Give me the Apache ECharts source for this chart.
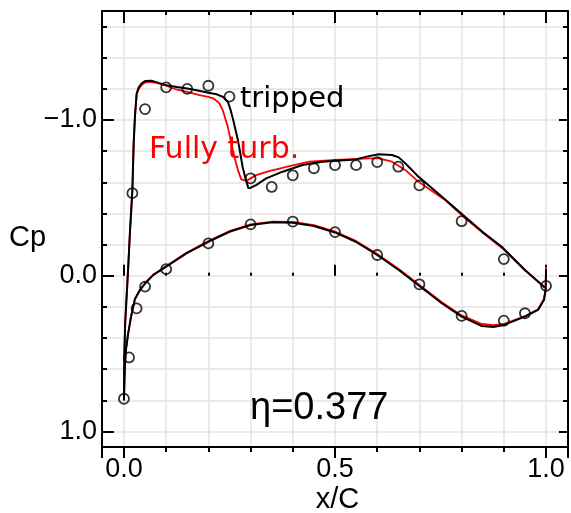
<!DOCTYPE html>
<html>
<head>
	<meta charset="utf-8">
	<title>Cp distribution</title>
	<script src="https://cdn.jsdelivr.net/npm/echarts@6/dist/echarts.min.js"></script>
	<style>
	html, body {
		margin: 0;
		height: 100%;
		background: #fff;
	}
	#main {
		width: 571px;
		height: 513px;
	}
	</style>
</head>
<body>
<div id="main"></div>
<script>
	// experiment (open circles)
	var expUpper = [
		[0.02, -0.53], [0.05, -1.07], [0.1, -1.21], [0.15, -1.2], [0.2, -1.22], [0.25, -1.15],
		[0.3, -0.625], [0.35, -0.57], [0.4, -0.645], [0.45, -0.69], [0.5, -0.71], [0.55, -0.71],
		[0.6, -0.73], [0.65, -0.7], [0.7, -0.58], [0.8, -0.35], [0.9, -0.107], [1.0, 0.065]
	];
	var expLower = [
		[0.0, 0.79], [0.012, 0.525], [0.03, 0.21], [0.05, 0.07], [0.1, -0.042], [0.2, -0.208],
		[0.3, -0.33], [0.4, -0.348], [0.5, -0.28], [0.6, -0.133], [0.7, 0.055], [0.8, 0.258],
		[0.9, 0.289], [0.95, 0.241]
	];

	// computation, tripped (black)
	var trippedUpper = [
		[0, 0.8], [0.001, 0.5], [0.003, 0.3], [0.006, 0.15], [0.01, -0.05], [0.014, -0.27],
		[0.02, -0.55], [0.023, -0.85], [0.026, -1.02], [0.03, -1.17], [0.035, -1.21], [0.042, -1.235],
		[0.05, -1.25], [0.065, -1.252], [0.08, -1.24], [0.1, -1.224], [0.125, -1.212], [0.15, -1.202],
		[0.175, -1.19], [0.2, -1.175], [0.22, -1.165], [0.235, -1.148], [0.246, -1.117], [0.252, -1.07],
		[0.258, -1.01], [0.264, -0.94], [0.27, -0.871], [0.276, -0.78], [0.281, -0.7], [0.289, -0.614],
		[0.295, -0.561], [0.3, -0.565], [0.313, -0.582], [0.337, -0.625], [0.376, -0.668], [0.423, -0.711],
		[0.47, -0.732], [0.549, -0.747], [0.58, -0.768], [0.604, -0.78], [0.635, -0.775], [0.651, -0.76],
		[0.667, -0.721], [0.698, -0.635], [0.73, -0.561], [0.761, -0.49], [0.808, -0.379], [0.85, -0.28],
		[0.895, -0.186], [0.95, -0.037], [0.997, 0.075]
	];
	var trippedLower = [
		[0, 0.8], [0.001, 0.68], [0.002, 0.584], [0.005, 0.47], [0.01, 0.37], [0.017, 0.26],
		[0.026, 0.15], [0.038, 0.092], [0.05, 0.05], [0.069, -0.004], [0.1, -0.058], [0.148, -0.144],
		[0.2, -0.218], [0.25, -0.282], [0.3, -0.325], [0.352, -0.343], [0.4, -0.34], [0.45, -0.319],
		[0.5, -0.278], [0.549, -0.218], [0.6, -0.133], [0.651, -0.037], [0.7, 0.066], [0.753, 0.177],
		[0.8, 0.263], [0.848, 0.323], [0.875, 0.33], [0.9, 0.316], [0.95, 0.263], [0.981, 0.22],
		[0.995, 0.156], [0.999, 0.09], [1.0, -0.04]
	];

	// computation, fully turbulent (red)
	var turbUpper = [
		[0, 0.8], [0.001, 0.5], [0.003, 0.3], [0.006, 0.15], [0.01, -0.05], [0.014, -0.27],
		[0.02, -0.55], [0.023, -0.85], [0.026, -1.02], [0.03, -1.16], [0.035, -1.2], [0.042, -1.225],
		[0.05, -1.24], [0.06, -1.245], [0.077, -1.239], [0.1, -1.22], [0.124, -1.196], [0.15, -1.18],
		[0.179, -1.16], [0.2, -1.148], [0.211, -1.139], [0.22, -1.122], [0.226, -1.107], [0.234, -1.064],
		[0.24, -1.01], [0.246, -0.956], [0.252, -0.88], [0.258, -0.807], [0.264, -0.74], [0.27, -0.678],
		[0.278, -0.619], [0.285, -0.612], [0.293, -0.614], [0.313, -0.646], [0.344, -0.672], [0.392, -0.704],
		[0.439, -0.732], [0.502, -0.743], [0.58, -0.753], [0.604, -0.753], [0.635, -0.732], [0.667, -0.678],
		[0.698, -0.603], [0.761, -0.486], [0.808, -0.37], [0.85, -0.275], [0.895, -0.18], [0.95, -0.035],
		[0.997, 0.075]
	];
	var turbLower = [
		[0, 0.8], [0.001, 0.68], [0.002, 0.584], [0.005, 0.47], [0.01, 0.37], [0.017, 0.26],
		[0.026, 0.15], [0.038, 0.09], [0.05, 0.048], [0.069, -0.006], [0.1, -0.06], [0.148, -0.147],
		[0.2, -0.222], [0.25, -0.287], [0.3, -0.33], [0.352, -0.348], [0.4, -0.346], [0.45, -0.325],
		[0.5, -0.284], [0.549, -0.224], [0.6, -0.139], [0.651, -0.043], [0.7, 0.06], [0.753, 0.17],
		[0.8, 0.255], [0.848, 0.31], [0.875, 0.318], [0.9, 0.31], [0.95, 0.26], [0.981, 0.215],
		[0.995, 0.15], [0.999, 0.09], [1.0, -0.06]
	];

	var xTickValues = [0, 0.5, 1.0];
	var xTickLabels = ['0.0', '0.5', '1.0'];
	var yTickValues = [-1, 0, 1];
	var yTickLabels = ['\u22121.0', '0.0', '1.0'];

	var FONT = 'Liberation Sans';
	var GRID_COLOR = '#e4e4e4';

	function labelFor(values, labels) {
		return function (v) {
			for (var i = 0; i < values.length; i++) {
				if (Math.abs(v - values[i]) < 1e-6) return labels[i];
			}
			return '';
		};
	}

	var myChart = echarts.init(document.getElementById('main'), null, {renderer: 'canvas'});

	// shared pieces for the frame axes
	function xBase(extra) {
		return Object.assign({
			type: 'value', min: -0.052, max: 1.052,
			minInterval: 0.5, maxInterval: 0.5,
			axisLine: {show: true, onZero: false, lineStyle: {color: '#000', width: 2}},
			axisLabel: {show: false},
			splitLine: {show: false},
			minorSplitLine: {show: false}
		}, extra);
	}
	function yBase(extra) {
		return Object.assign({
			type: 'value', min: -1.7, max: 1.1, inverse: true,
			minInterval: 1, maxInterval: 1,
			axisLine: {show: true, onZero: false, lineStyle: {color: '#000', width: 2}},
			axisLabel: {show: false},
			splitLine: {show: false},
			minorSplitLine: {show: false}
		}, extra);
	}

	var option = {
		animation: false,
		backgroundColor: '#fff',
		grid: {left: 102, top: 11, width: 468, height: 436},
		xAxis: [
			xBase({
				position: 'bottom',
				axisTick: {show: true, inside: false, length: 11, lineStyle: {color: '#000', width: 2}},
				minorTick: {show: true, splitNumber: 5, length: 5, lineStyle: {color: '#000', width: 2}},
				splitLine: {show: true, lineStyle: {color: GRID_COLOR, width: 1.5}},
				minorSplitLine: {show: true, lineStyle: {color: GRID_COLOR, width: 1.5}},
				axisLabel: {
					show: true, margin: 9, color: '#000', fontSize: 27, fontFamily: FONT,
					formatter: labelFor(xTickValues, xTickLabels)
				}
			}),
			xBase({
				position: 'bottom',
				axisLine: {show: false},
				axisTick: {show: true, inside: true, length: 11, lineStyle: {color: '#000', width: 2}},
				minorTick: {show: true, splitNumber: 5, length: 3, lineStyle: {color: '#000', width: 2}}
			}),
			xBase({
				position: 'top',
				axisTick: {show: true, inside: true, length: 12, lineStyle: {color: '#000', width: 2}},
				minorTick: {show: true, splitNumber: 5, length: 4, lineStyle: {color: '#000', width: 2}}
			})
		],
		yAxis: [
			yBase({
				position: 'left',
				axisTick: {show: true, inside: true, length: 12, lineStyle: {color: '#000', width: 2}},
				minorTick: {show: true, splitNumber: 5, length: 5, lineStyle: {color: '#000', width: 2}},
				splitLine: {show: true, lineStyle: {color: GRID_COLOR, width: 1.5}},
				minorSplitLine: {show: true, lineStyle: {color: GRID_COLOR, width: 1.5}},
				axisLabel: {
					show: true, margin: 5, color: '#000', fontSize: 27, fontFamily: FONT,
					formatter: labelFor(yTickValues, yTickLabels)
				}
			}),
			yBase({
				position: 'right',
				axisTick: {show: true, inside: true, length: 9, lineStyle: {color: '#000', width: 2}},
				minorTick: {show: true, splitNumber: 5, length: 5, lineStyle: {color: '#000', width: 2}}
			})
		],
		graphic: [
			{type: 'text', x: 240, y: 99, style: {text: 'tripped', fill: '#000', font: '29px "DejaVu Sans"', verticalAlign: 'middle'}, z: 100},
			{type: 'text', x: 149, y: 150, style: {text: 'Fully turb.', fill: '#ff0000', font: '30px "DejaVu Sans"', verticalAlign: 'middle'}, z: 100},
			{type: 'text', x: 250, y: 409, style: {text: '\u03b7=0.377', fill: '#000', font: '38px "Liberation Sans"', verticalAlign: 'middle'}, z: 100},
			{type: 'text', x: 27.5, y: 238, style: {text: 'Cp', fill: '#000', font: '29px "Liberation Sans"', align: 'center', verticalAlign: 'middle'}, z: 100},
			{type: 'text', x: 337.5, y: 500, style: {text: 'x/C', fill: '#000', font: '29px "Liberation Sans"', align: 'center', verticalAlign: 'middle'}, z: 100}
		],
		series: [
			{type: 'line', data: turbUpper, showSymbol: false, lineStyle: {color: '#ff0000', width: 1.8}, z: 2},
			{type: 'line', data: turbLower, showSymbol: false, lineStyle: {color: '#ff0000', width: 1.8}, z: 2},
			{type: 'line', data: trippedUpper, showSymbol: false, lineStyle: {color: '#000', width: 2}, z: 3},
			{type: 'line', data: trippedLower, showSymbol: false, lineStyle: {color: '#000', width: 2}, z: 3},
			{type: 'scatter', data: expUpper, symbol: 'circle', symbolSize: 10,
				itemStyle: {color: 'rgba(0,0,0,0)', borderColor: '#000', borderWidth: 1.8}, z: 4},
			{type: 'scatter', data: expLower, symbol: 'circle', symbolSize: 10,
				itemStyle: {color: 'rgba(0,0,0,0)', borderColor: '#000', borderWidth: 1.8}, z: 4}
		]
	};
	myChart.setOption(option);
</script>
</body>
</html>
